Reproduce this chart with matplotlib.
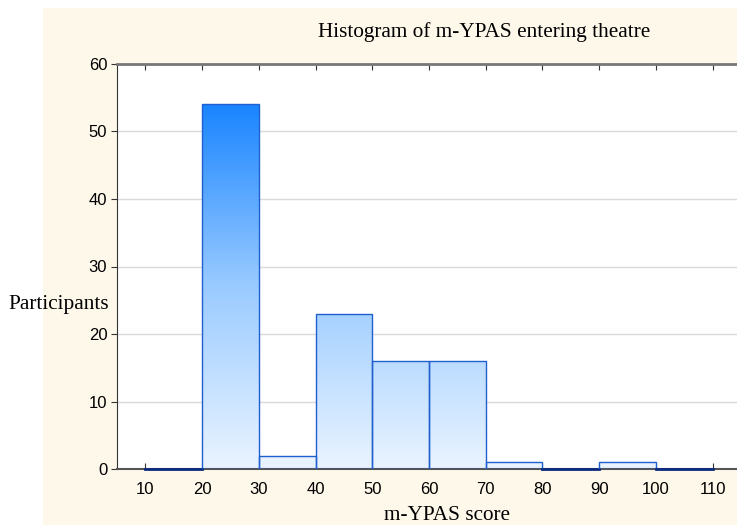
import numpy as np
import matplotlib
matplotlib.use("Agg")
import matplotlib.pyplot as plt
from matplotlib.patches import Rectangle
from matplotlib.colors import LinearSegmentedColormap

bin_edges = [10, 20, 30, 40, 50, 60, 70, 80, 90, 100, 110]
counts = [0, 54, 2, 23, 16, 16, 1, 0, 1, 0]
x_ticks = [10, 20, 30, 40, 50, 60, 70, 80, 90, 100, 110]
y_ticks = [0, 10, 20, 30, 40, 50, 60]

W, H = 737, 525
fig = plt.figure(figsize=(W / 100, H / 100), dpi=100)
fig.patch.set_facecolor("white")
bg = Rectangle((43 / W, 0), 1 - 43 / W, 1 - 8 / H, transform=fig.transFigure,
               facecolor="#FEF8EA", edgecolor="none", zorder=-10)
fig.add_artist(bg)

left, right, top, bottom = 117, 741, 64, 469
ax = fig.add_axes([left / W, 1 - bottom / H, (right - left) / W, (bottom - top) / H])
ax.set_zorder(1)
ax.set_facecolor("white")

cmap = LinearSegmentedColormap.from_list("g", ["#EAF4FF", "#9ACBFF", "#1A85FF"])
grad = np.linspace(0, 1, 256).reshape(-1, 1)
ymax = max(counts)
for i, c in enumerate(counts):
    x0, x1 = bin_edges[i], bin_edges[i + 1]
    if c > 0:
        im = ax.imshow(grad, extent=(5, 115, 0, ymax), origin="lower", aspect="auto",
                       cmap=cmap, zorder=2, interpolation="bilinear")
        rect = Rectangle((x0, 0), x1 - x0, c, facecolor="none", edgecolor="#1F5FD0",
                         linewidth=1.0, zorder=3)
        ax.add_patch(rect)
        im.set_clip_path(rect)
    else:
        ax.plot([x0, x1], [0, 0], color="#0A2A80", linewidth=2, zorder=3, clip_on=False)
ax.set_xlim(5, 115)
ax.set_ylim(0, 60)

ax.set_yticks(y_ticks)
ax.set_xticks(x_ticks)
ax.yaxis.grid(True, color="#DADADA", linewidth=1)
ax.set_axisbelow(True)
ax.tick_params(axis="y", direction="out", length=4, labelsize=12, color="#333333", pad=3)
ax.tick_params(axis="x", direction="in", length=4, labelsize=12, top=True, color="#333333", pad=9)
for lab in ax.get_xticklabels() + ax.get_yticklabels():
    lab.set_fontfamily("Liberation Sans")

ax.spines["left"].set_color("#333333")
ax.spines["bottom"].set_color("#555555")
ax.spines["bottom"].set_linewidth(1.5)
ax.spines["top"].set_color("#777777")
ax.spines["top"].set_linewidth(2)
ax.spines["right"].set_visible(False)

fig.text(484 / W, 1 - 32 / H, "Histogram of m-YPAS entering theatre", ha="center", va="center",
         fontsize=15.3, family="Liberation Serif")
fig.text(447 / W, 1 - 515 / H, "m-YPAS score", ha="center", va="center",
         fontsize=15.3, family="Liberation Serif")
fig.text(8 / W, 1 - 305 / H, "Participants", ha="left", va="center",
         fontsize=15.3, family="Liberation Serif")

fig.savefig("out.png", dpi=100)
